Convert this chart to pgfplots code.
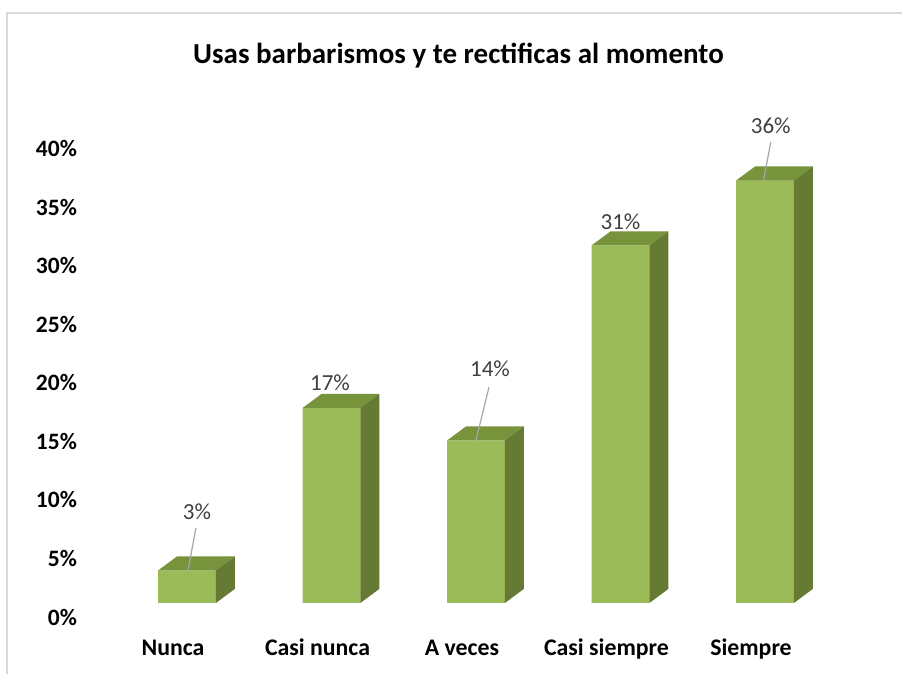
\documentclass[border=0pt]{standalone}
\usepackage{pgfplots}
\pgfplotsset{compat=1.18}
\usepackage{fontspec}
\setmainfont{Carlito}
\definecolor{barfront}{RGB}{155,187,89}
\definecolor{bartop}{RGB}{119,147,60}
\definecolor{barside}{RGB}{101,123,52}
\definecolor{lblgray}{RGB}{64,64,64}
\definecolor{leader}{RGB}{166,166,166}
\definecolor{frame}{RGB}{217,217,217}

\begin{document}
\begin{tikzpicture}[x=1pt,y=1pt]
\useasboundingbox (0,0) rectangle (902,674);
\fill[white] (0,0) rectangle (902,674);
\draw[frame, line width=1.2pt] (7,-5) -- (7,661) -- (910,661);
\node[anchor=base, font=\fontsize{29}{34}\selectfont\bfseries] at (458.5,610) {Usas barbarismos y te rectificas al momento};

\begin{axis}[
    at={(78.6pt,71pt)}, anchor=south west,
    x=144.5pt, y=11.7pt,
    xmin=-0.75, xmax=4.85,
    ymin=0, ymax=42,
    clip=false,
    axis lines=left,
    axis line style={draw=none},
    tick style={draw=none},
    xtick={0,1,2,3,4},
    xticklabels={Nunca, Casi nunca, A veces, Casi siempre, Siempre},
    xticklabel style={font=\fontsize{23.8}{28}\selectfont\bfseries, anchor=base, xshift=-14pt, yshift=-50pt},
    ytick={0,5,10,15,20,25,30,35,40},
    yticklabels={0\%,5\%,10\%,15\%,20\%,25\%,30\%,35\%,40\%},
    yticklabel style={font=\fontsize{23.5}{28}\selectfont\bfseries, yshift=-14pt, xshift=4pt},
]
% front faces (1, 6, 5, 11, 13 of 36)
\addplot[ybar, bar width=0.4, fill=barfront, draw=none] coordinates {
    (0,2.78) (1,16.67) (2,13.89) (3,30.56) (4,36.11)
};
% top faces
\addplot[fill=bartop, draw=none] coordinates {(-0.2,2.78) (0.2,2.78) (0.331,3.98) (-0.069,3.98)};
\addplot[fill=bartop, draw=none] coordinates {(0.8,16.67) (1.2,16.67) (1.331,17.87) (0.931,17.87)};
\addplot[fill=bartop, draw=none] coordinates {(1.8,13.89) (2.2,13.89) (2.331,15.09) (1.931,15.09)};
\addplot[fill=bartop, draw=none] coordinates {(2.8,30.56) (3.2,30.56) (3.331,31.76) (2.931,31.76)};
\addplot[fill=bartop, draw=none] coordinates {(3.8,36.11) (4.2,36.11) (4.331,37.31) (3.931,37.31)};
% side faces
\addplot[fill=barside, draw=none] coordinates {(0.2,0) (0.2,2.78) (0.331,3.98) (0.331,1.2)};
\addplot[fill=barside, draw=none] coordinates {(1.2,0) (1.2,16.67) (1.331,17.87) (1.331,1.2)};
\addplot[fill=barside, draw=none] coordinates {(2.2,0) (2.2,13.89) (2.331,15.09) (2.331,1.2)};
\addplot[fill=barside, draw=none] coordinates {(3.2,0) (3.2,30.56) (3.331,31.76) (3.331,1.2)};
\addplot[fill=barside, draw=none] coordinates {(4.2,0) (4.2,36.11) (4.331,37.31) (4.331,1.2)};
% leader lines
\addplot[leader, line width=1.2pt] coordinates {(0.062,6.41) (0.007,2.78)};
\addplot[leader, line width=1.2pt] coordinates {(2.09,18.46) (2.0,13.89)};
\addplot[leader, line width=1.2pt] coordinates {(4.04,39.4) (3.99,36.11)};
% data labels
\addplot[draw=none, mark=none, point meta=explicit symbolic,
    nodes near coords, nodes near coords style={anchor=center, text=lblgray,
    font=\fontsize{23}{27}\selectfont}] coordinates {
    (0.069,7.78) [3\%]
    (0.99,18.8) [17\%]
    (2.097,20.0) [14\%]
    (3.0,32.6) [31\%]
    (4.04,40.8) [36\%]
};
\end{axis}
\end{tikzpicture}
\end{document}
